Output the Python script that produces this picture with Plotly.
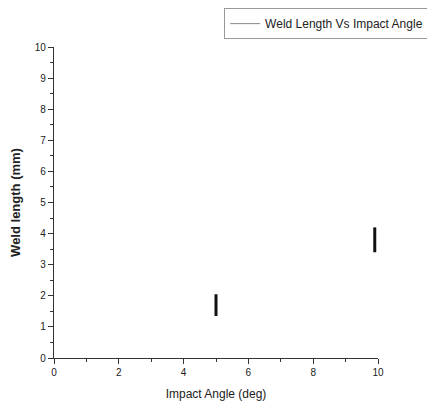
import plotly.graph_objects as go

angles = [5.0, 9.9]
weld_low = [1.35, 3.4]
weld_high = [2.05, 4.2]
series_name = "Weld Length Vs Impact Angle"

xs, ys = [], []
for a, lo, hi in zip(angles, weld_low, weld_high):
    xs += [a, a, None]
    ys += [lo, hi, None]

fig = go.Figure()
fig.add_trace(go.Scatter(x=xs, y=ys, mode="lines", line=dict(color="#111111", width=3),
                         showlegend=False, hoverinfo="skip"))
fig.add_trace(go.Scatter(x=[None], y=[None], mode="lines", name=series_name,
                         line=dict(color="#888888", width=1)))

font = "Liberation Sans, Arial, sans-serif"
fig.update_layout(
    width=427, height=403,
    margin=dict(l=46, r=57, t=39, b=53, autoexpand=False),
    plot_bgcolor="white", paper_bgcolor="white",
    font=dict(family=font, color="#222222", size=10),
    showlegend=True,
    legend=dict(x=0.525, y=1.125, xanchor="left", yanchor="top",
                bordercolor="#999999", borderwidth=1, bgcolor="white",
                font=dict(size=12, family=font), itemwidth=30,
                tracegroupgap=0),
    xaxis=dict(range=[0, 10], tickvals=[0, 2, 4, 6, 8, 10],
               showline=True, linecolor="#333333", linewidth=1.2,
               ticks="outside", ticklen=5, tickcolor="#333333",
               minor=dict(dtick=1, ticks="outside", ticklen=3, tickcolor="#333333"),
               showgrid=False, zeroline=False,
               title=dict(text="Impact Angle (deg)", font=dict(size=12, family=font), standoff=12)),
    yaxis=dict(range=[0, 10], dtick=1,
               showline=True, linecolor="#333333", linewidth=1.2,
               ticks="outside", ticklen=5, tickcolor="#333333",
               minor=dict(dtick=0.5, ticks="outside", ticklen=3, tickcolor="#333333"),
               showgrid=False, zeroline=False,
               title=dict(text="<b>Weld length (mm)</b>", font=dict(size=13, family=font), standoff=16)),
)

fig.write_html("out.html")
